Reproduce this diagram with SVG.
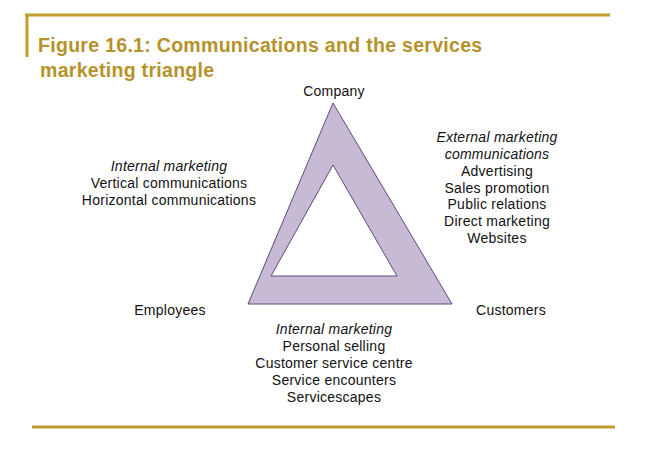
<svg xmlns="http://www.w3.org/2000/svg" width="648" height="468" viewBox="0 0 648 468">
<style>
.t{font-family:"Liberation Sans",Arial,sans-serif;font-size:14px;fill:#111;text-anchor:middle;letter-spacing:0.25px}
.i{font-style:italic}
.title{font-family:"Liberation Sans",Arial,sans-serif;font-size:19.5px;font-weight:bold;fill:#b5922a;letter-spacing:0.3px}
.rule{stroke:#bf9d2e;stroke-width:3;fill:none}
</style>
<rect width="648" height="468" fill="#fff"/>
<g id="frame">
<line class="rule" x1="25" y1="15" x2="610" y2="15"/>
<line class="rule" x1="27" y1="14" x2="27" y2="57"/>
<line class="rule" x1="32" y1="427" x2="615" y2="427"/>
</g>
<g id="title">
<text class="title" x="38" y="52">Figure 16.1: Communications and the services</text>
<text class="title" x="40" y="77">marketing triangle</text>
</g>
<g id="triangle">
<path d="M333,103 L452,304 L248,304 Z M333,165 L271,276 L397,276 Z" fill="#c6bad5" fill-rule="evenodd" stroke="#5b4a7a" stroke-width="1"/>
</g>
<g id="company"><text class="t" x="334" y="96">Company</text></g>
<g id="employees"><text class="t" x="170" y="315">Employees</text></g>
<g id="customers"><text class="t" x="511" y="315">Customers</text></g>
<g id="internal-left">
<text class="t i" x="169" y="171">Internal marketing</text>
<text class="t" x="169" y="188">Vertical communications</text>
<text class="t" x="169" y="205">Horizontal communications</text>
</g>
<g id="external-right">
<text class="t i" x="497" y="142">External marketing</text>
<text class="t i" x="497" y="159">communications</text>
<text class="t" x="497" y="176">Advertising</text>
<text class="t" x="497" y="193">Sales promotion</text>
<text class="t" x="497" y="209">Public relations</text>
<text class="t" x="497" y="226">Direct marketing</text>
<text class="t" x="497" y="243">Websites</text>
</g>
<g id="internal-bottom">
<text class="t i" x="334" y="334">Internal marketing</text>
<text class="t" x="334" y="351">Personal selling</text>
<text class="t" x="334" y="368">Customer service centre</text>
<text class="t" x="334" y="385">Service encounters</text>
<text class="t" x="334" y="402">Servicescapes</text>
</g>
<g id="connectors"></g>
</svg>
